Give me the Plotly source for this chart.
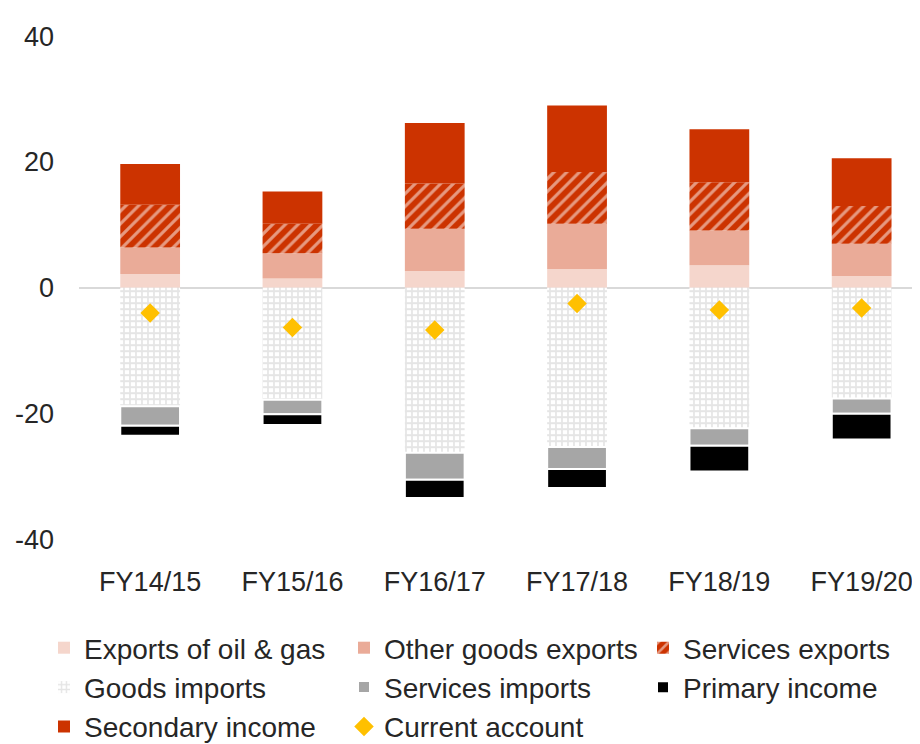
import plotly.graph_objects as go

categories = ["FY14/15", "FY15/16", "FY16/17", "FY17/18", "FY18/19", "FY19/20"]
oil_gas_exports = [2.2, 1.5, 2.7, 3.0, 3.6, 1.9]
other_goods_exports = [4.2, 4.0, 6.7, 7.2, 5.5, 5.1]
services_exports = [6.8, 4.7, 7.2, 8.2, 7.7, 6.0]
goods_imports = [-18.8, -17.8, -26.2, -25.3, -22.3, -17.6]
services_imports = [-3.1, -2.3, -4.3, -3.5, -2.8, -2.4]
primary_income = [-1.6, -1.7, -2.9, -3.0, -4.1, -4.1]
secondary_income = [6.5, 5.1, 9.6, 10.6, 8.4, 7.6]
current_account = [-4.0, -6.3, -6.7, -2.5, -3.5, -3.2]
y_tick_values = [-40, -20, 0, 20, 40]
y_tick_labels = ["-40", "-20", "0", "20", "40"]

FONT = "Liberation Sans"
TXT = "#262626"
W, H = 920, 744

fig = go.Figure()
fig.add_bar(x=categories, y=oil_gas_exports, name="Exports of oil & gas", legend="legend",
            marker=dict(color="#F5D6CC", line=dict(width=0)))
fig.add_bar(x=categories, y=other_goods_exports, name="Other goods exports", legend="legend2",
            marker=dict(color="#EAAB98", line=dict(width=0)))
fig.add_bar(x=categories, y=services_exports, name="Services exports", legend="legend3",
            marker=dict(color="#CC3300", line=dict(width=0),
                        pattern=dict(shape="/", fgcolor="white", size=9, solidity=0.35)))
fig.add_bar(x=categories, y=goods_imports, name="Goods imports", legend="legend",
            marker=dict(color="white", line=dict(width=0),
                        pattern=dict(shape="+", fgcolor="#CCCCCC", bgcolor="white", size=6, solidity=0.5)))
fig.add_bar(x=categories, y=services_imports, name="Services imports", legend="legend2",
            marker=dict(color="#A6A6A6", line=dict(width=2, color="white")))
fig.add_bar(x=categories, y=primary_income, name="Primary income", legend="legend3",
            marker=dict(color="black", line=dict(width=2, color="white")))
fig.add_bar(x=categories, y=secondary_income, name="Secondary income", legend="legend",
            marker=dict(color="#CC3300", line=dict(width=0)))
fig.add_scatter(x=categories, y=current_account, name="Current account", mode="markers",
                legend="legend2",
                marker=dict(symbol="diamond", color="#FFC000", size=15, line=dict(width=0)))

leg_common = dict(orientation="v", yanchor="top", xanchor="left", y=1 - 633 / H,
                  font=dict(family=FONT, size=28, color=TXT), itemwidth=30,
                  bgcolor="rgba(0,0,0,0)", tracegroupgap=0)

fig.update_layout(
    width=W, height=H,
    barmode="relative", bargap=0.58,
    paper_bgcolor="white", plot_bgcolor="white",
    margin=dict(l=0, r=0, t=0, b=0),
    font=dict(family=FONT, size=27, color=TXT),
    showlegend=True,
    legend=dict(leg_common, x=36 / W),
    legend2=dict(leg_common, x=336 / W),
    legend3=dict(leg_common, x=635 / W),
)
px_per_cat = 142.3
x_left = 71
fig.update_xaxes(domain=[x_left / W, 1.0],
                 range=[-0.5, -0.5 + (W - x_left) / px_per_cat],
                 showgrid=False, showline=False,
                 ticks="", ticklabelstandoff=23, tickfont=dict(size=27), automargin=False)
fig.update_yaxes(domain=[1 - 547 / H, 1 - 29 / H], range=[-40, 40],
                 tickvals=y_tick_values, ticktext=y_tick_labels, showgrid=False,
                 zeroline=True, zerolinecolor="#D9D9D9", zerolinewidth=2,
                 showline=False, ticks="", ticklabelstandoff=24, tickfont=dict(size=27),
                 automargin=False)

fig.write_html("out.html")
